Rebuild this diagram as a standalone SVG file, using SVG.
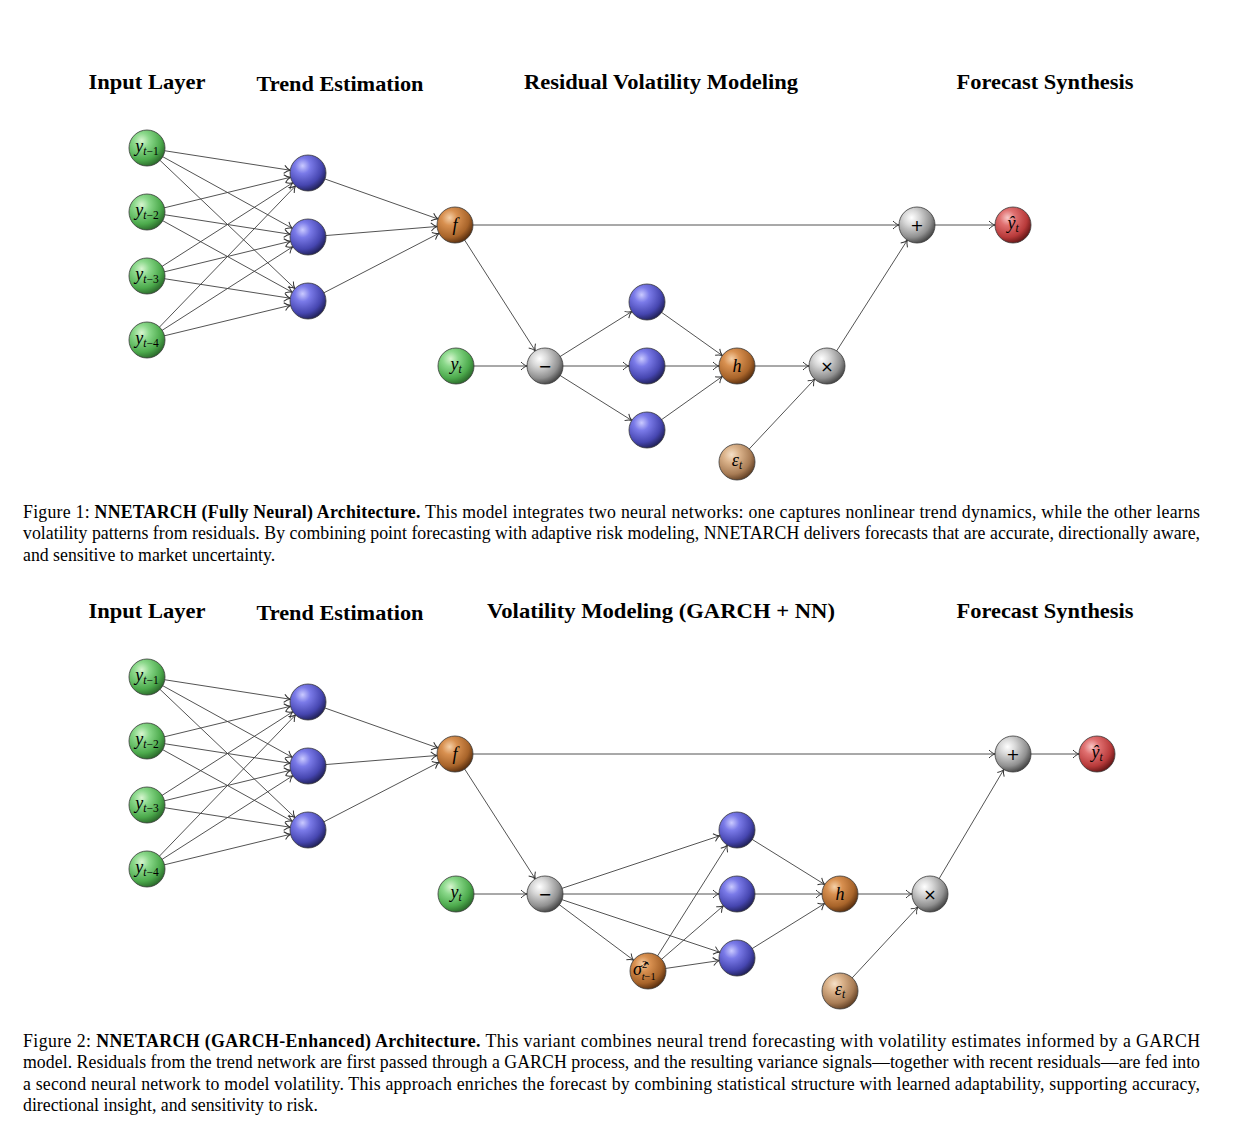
<svg xmlns="http://www.w3.org/2000/svg" width="1256" height="1148" viewBox="0 0 1256 1148">
<style>
.e{stroke:#404040;stroke-width:0.9;fill:none;marker-end:url(#ar)}
.n{stroke:#3a3a3a;stroke-width:0.8}
.hd{font-family:"Liberation Serif","Times New Roman",serif;font-weight:bold;font-size:22px;fill:#000}
.cap{font-family:"Liberation Serif","Times New Roman",serif;font-size:17.8px;fill:#000}
.m{font-family:"Liberation Serif","Times New Roman",serif;font-size:18px;fill:#000}
.op{font-family:"DejaVu Sans","Liberation Sans",sans-serif;font-size:16px;fill:#000}
.i{font-style:italic}
.s{font-size:11.5px}
</style>
<defs>
<marker id="ar" markerUnits="userSpaceOnUse" markerWidth="40" markerHeight="20" viewBox="-30 -10 40 20" refX="18" refY="0" orient="auto" overflow="visible">
<path d="M-6,-4 C-4,-1.8 -1.5,-0.4 0,0 C-1.5,0.4 -4,1.8 -6,4" fill="none" stroke="#333" stroke-width="1"/>
</marker>
<radialGradient id="gG" cx="0.35" cy="0.3" r="0.72" fx="0.35" fy="0.3"><stop offset="0" stop-color="#d8f5d0"/><stop offset="0.3" stop-color="#8ad88a"/><stop offset="0.75" stop-color="#4caa4c"/><stop offset="1" stop-color="#2d6e2d"/></radialGradient>
<radialGradient id="gB" cx="0.35" cy="0.3" r="0.72" fx="0.35" fy="0.3"><stop offset="0" stop-color="#cacaff"/><stop offset="0.3" stop-color="#7a7ae8"/><stop offset="0.75" stop-color="#4646b0"/><stop offset="1" stop-color="#23235e"/></radialGradient>
<radialGradient id="gO" cx="0.35" cy="0.3" r="0.72" fx="0.35" fy="0.3"><stop offset="0" stop-color="#f5d0a8"/><stop offset="0.3" stop-color="#d89050"/><stop offset="0.75" stop-color="#a8642a"/><stop offset="1" stop-color="#5e3210"/></radialGradient>
<radialGradient id="gS" cx="0.35" cy="0.3" r="0.72" fx="0.35" fy="0.3"><stop offset="0" stop-color="#ffffff"/><stop offset="0.3" stop-color="#d8d8d8"/><stop offset="0.75" stop-color="#909090"/><stop offset="1" stop-color="#4a4a4a"/></radialGradient>
<radialGradient id="gR" cx="0.35" cy="0.3" r="0.72" fx="0.35" fy="0.3"><stop offset="0" stop-color="#f8c8c8"/><stop offset="0.3" stop-color="#e07070"/><stop offset="0.75" stop-color="#b83a3a"/><stop offset="1" stop-color="#6a1818"/></radialGradient>
<radialGradient id="gT" cx="0.35" cy="0.3" r="0.72" fx="0.35" fy="0.3"><stop offset="0" stop-color="#f5e0c8"/><stop offset="0.3" stop-color="#dcb48c"/><stop offset="0.75" stop-color="#a87c55"/><stop offset="1" stop-color="#664428"/></radialGradient>
</defs>
<rect width="1256" height="1148" fill="#fff"/>

<!-- Headings -->
<g id="headings1">
<text class="hd" x="147" y="89" text-anchor="middle" textLength="117" lengthAdjust="spacingAndGlyphs">Input Layer</text>
<text class="hd" x="340" y="91" text-anchor="middle" textLength="167" lengthAdjust="spacingAndGlyphs">Trend Estimation</text>
<text class="hd" x="661" y="89" text-anchor="middle" textLength="274" lengthAdjust="spacingAndGlyphs">Residual Volatility Modeling</text>
<text class="hd" x="1045" y="89" text-anchor="middle" textLength="177" lengthAdjust="spacingAndGlyphs">Forecast Synthesis</text>
</g>
<g id="headings2">
<text class="hd" x="147" y="618" text-anchor="middle" textLength="117" lengthAdjust="spacingAndGlyphs">Input Layer</text>
<text class="hd" x="340" y="620" text-anchor="middle" textLength="167" lengthAdjust="spacingAndGlyphs">Trend Estimation</text>
<text class="hd" x="661" y="618" text-anchor="middle" textLength="348" lengthAdjust="spacingAndGlyphs">Volatility Modeling (GARCH + NN)</text>
<text class="hd" x="1045" y="618" text-anchor="middle" textLength="177" lengthAdjust="spacingAndGlyphs">Forecast Synthesis</text>
</g>

<!-- Connectors figure 1 -->
<g id="connectors1">
<line class="e" x1="147" y1="148" x2="308" y2="173"/><line class="e" x1="147" y1="148" x2="308" y2="237"/><line class="e" x1="147" y1="148" x2="308" y2="301"/>
<line class="e" x1="147" y1="212" x2="308" y2="173"/><line class="e" x1="147" y1="212" x2="308" y2="237"/><line class="e" x1="147" y1="212" x2="308" y2="301"/>
<line class="e" x1="147" y1="276" x2="308" y2="173"/><line class="e" x1="147" y1="276" x2="308" y2="237"/><line class="e" x1="147" y1="276" x2="308" y2="301"/>
<line class="e" x1="147" y1="340" x2="308" y2="173"/><line class="e" x1="147" y1="340" x2="308" y2="237"/><line class="e" x1="147" y1="340" x2="308" y2="301"/>
<line class="e" x1="308" y1="173" x2="455" y2="225"/><line class="e" x1="308" y1="237" x2="455" y2="225"/><line class="e" x1="308" y1="301" x2="455" y2="225"/>
<line class="e" x1="455" y1="225" x2="917" y2="225"/>
<line class="e" x1="455" y1="225" x2="545" y2="366"/>
<line class="e" x1="456" y1="366" x2="545" y2="366"/>
<line class="e" x1="545" y1="366" x2="647" y2="302"/><line class="e" x1="545" y1="366" x2="647" y2="366"/><line class="e" x1="545" y1="366" x2="647" y2="430"/>
<line class="e" x1="647" y1="302" x2="737" y2="366"/><line class="e" x1="647" y1="366" x2="737" y2="366"/><line class="e" x1="647" y1="430" x2="737" y2="366"/>
<line class="e" x1="737" y1="366" x2="827" y2="366"/>
<line class="e" x1="737" y1="462" x2="827" y2="366"/>
<line class="e" x1="827" y1="366" x2="917" y2="225"/>
<line class="e" x1="917" y1="225" x2="1013" y2="225"/>
</g>

<!-- Connectors figure 2 -->
<g id="connectors2">
<line class="e" x1="147" y1="677" x2="308" y2="702"/><line class="e" x1="147" y1="677" x2="308" y2="766"/><line class="e" x1="147" y1="677" x2="308" y2="830"/>
<line class="e" x1="147" y1="741" x2="308" y2="702"/><line class="e" x1="147" y1="741" x2="308" y2="766"/><line class="e" x1="147" y1="741" x2="308" y2="830"/>
<line class="e" x1="147" y1="805" x2="308" y2="702"/><line class="e" x1="147" y1="805" x2="308" y2="766"/><line class="e" x1="147" y1="805" x2="308" y2="830"/>
<line class="e" x1="147" y1="869" x2="308" y2="702"/><line class="e" x1="147" y1="869" x2="308" y2="766"/><line class="e" x1="147" y1="869" x2="308" y2="830"/>
<line class="e" x1="308" y1="702" x2="455" y2="754"/><line class="e" x1="308" y1="766" x2="455" y2="754"/><line class="e" x1="308" y1="830" x2="455" y2="754"/>
<line class="e" x1="455" y1="754" x2="1013" y2="754"/>
<line class="e" x1="455" y1="754" x2="545" y2="894"/>
<line class="e" x1="456" y1="894" x2="545" y2="894"/>
<line class="e" x1="545" y1="894" x2="737" y2="830"/><line class="e" x1="545" y1="894" x2="737" y2="894"/><line class="e" x1="545" y1="894" x2="737" y2="958"/><line class="e" x1="545" y1="894" x2="648" y2="971"/>
<line class="e" x1="648" y1="971" x2="737" y2="830"/><line class="e" x1="648" y1="971" x2="737" y2="894"/><line class="e" x1="648" y1="971" x2="737" y2="958"/>
<line class="e" x1="737" y1="830" x2="840" y2="894"/><line class="e" x1="737" y1="894" x2="840" y2="894"/><line class="e" x1="737" y1="958" x2="840" y2="894"/>
<line class="e" x1="840" y1="894" x2="930" y2="894"/>
<line class="e" x1="840" y1="991" x2="930" y2="894"/>
<line class="e" x1="930" y1="894" x2="1013" y2="754"/>
<line class="e" x1="1013" y1="754" x2="1097" y2="754"/>
</g>

<!-- Nodes figure 1 -->
<g id="f1-in1"><circle class="n" cx="147" cy="148" r="18" fill="url(#gG)"/><text class="m" x="147" y="152" text-anchor="middle"><tspan class="i">y</tspan><tspan class="s" dy="3"><tspan class="i">t</tspan>−1</tspan></text></g>
<g id="f1-in2"><circle class="n" cx="147" cy="212" r="18" fill="url(#gG)"/><text class="m" x="147" y="216" text-anchor="middle"><tspan class="i">y</tspan><tspan class="s" dy="3"><tspan class="i">t</tspan>−2</tspan></text></g>
<g id="f1-in3"><circle class="n" cx="147" cy="276" r="18" fill="url(#gG)"/><text class="m" x="147" y="280" text-anchor="middle"><tspan class="i">y</tspan><tspan class="s" dy="3"><tspan class="i">t</tspan>−3</tspan></text></g>
<g id="f1-in4"><circle class="n" cx="147" cy="340" r="18" fill="url(#gG)"/><text class="m" x="147" y="344" text-anchor="middle"><tspan class="i">y</tspan><tspan class="s" dy="3"><tspan class="i">t</tspan>−4</tspan></text></g>
<g id="f1-h1"><circle class="n" cx="308" cy="173" r="18" fill="url(#gB)"/></g>
<g id="f1-h2"><circle class="n" cx="308" cy="237" r="18" fill="url(#gB)"/></g>
<g id="f1-h3"><circle class="n" cx="308" cy="301" r="18" fill="url(#gB)"/></g>
<g id="f1-f"><circle class="n" cx="455" cy="225" r="18" fill="url(#gO)"/><text class="m i" x="455" y="231" text-anchor="middle">f</text></g>
<g id="f1-plus"><circle class="n" cx="917" cy="225" r="18" fill="url(#gS)"/><text class="op" x="917" y="231" text-anchor="middle">+</text></g>
<g id="f1-yhat"><circle class="n" cx="1013" cy="225" r="18" fill="url(#gR)"/><text class="m" x="1013" y="229" text-anchor="middle"><tspan class="i">ŷ</tspan><tspan class="s i" dy="3">t</tspan></text></g>
<g id="f1-yt"><circle class="n" cx="456" cy="366" r="18" fill="url(#gG)"/><text class="m" x="456" y="370" text-anchor="middle"><tspan class="i">y</tspan><tspan class="s i" dy="3">t</tspan></text></g>
<g id="f1-minus"><circle class="n" cx="545" cy="366" r="18" fill="url(#gS)"/><text class="op" x="545" y="372" text-anchor="middle">−</text></g>
<g id="f1-v1"><circle class="n" cx="647" cy="302" r="18" fill="url(#gB)"/></g>
<g id="f1-v2"><circle class="n" cx="647" cy="366" r="18" fill="url(#gB)"/></g>
<g id="f1-v3"><circle class="n" cx="647" cy="430" r="18" fill="url(#gB)"/></g>
<g id="f1-h"><circle class="n" cx="737" cy="366" r="18" fill="url(#gO)"/><text class="m i" x="737" y="372" text-anchor="middle">h</text></g>
<g id="f1-times"><circle class="n" cx="827" cy="366" r="18" fill="url(#gS)"/><text class="op" x="827" y="372" text-anchor="middle">×</text></g>
<g id="f1-eps"><circle class="n" cx="737" cy="462" r="18" fill="url(#gT)"/><text class="m" x="737" y="466" text-anchor="middle"><tspan class="i">ε</tspan><tspan class="s i" dy="3">t</tspan></text></g>

<!-- Nodes figure 2 -->
<g id="f2-in1"><circle class="n" cx="147" cy="677" r="18" fill="url(#gG)"/><text class="m" x="147" y="681" text-anchor="middle"><tspan class="i">y</tspan><tspan class="s" dy="3"><tspan class="i">t</tspan>−1</tspan></text></g>
<g id="f2-in2"><circle class="n" cx="147" cy="741" r="18" fill="url(#gG)"/><text class="m" x="147" y="745" text-anchor="middle"><tspan class="i">y</tspan><tspan class="s" dy="3"><tspan class="i">t</tspan>−2</tspan></text></g>
<g id="f2-in3"><circle class="n" cx="147" cy="805" r="18" fill="url(#gG)"/><text class="m" x="147" y="809" text-anchor="middle"><tspan class="i">y</tspan><tspan class="s" dy="3"><tspan class="i">t</tspan>−3</tspan></text></g>
<g id="f2-in4"><circle class="n" cx="147" cy="869" r="18" fill="url(#gG)"/><text class="m" x="147" y="873" text-anchor="middle"><tspan class="i">y</tspan><tspan class="s" dy="3"><tspan class="i">t</tspan>−4</tspan></text></g>
<g id="f2-h1"><circle class="n" cx="308" cy="702" r="18" fill="url(#gB)"/></g>
<g id="f2-h2"><circle class="n" cx="308" cy="766" r="18" fill="url(#gB)"/></g>
<g id="f2-h3"><circle class="n" cx="308" cy="830" r="18" fill="url(#gB)"/></g>
<g id="f2-f"><circle class="n" cx="455" cy="754" r="18" fill="url(#gO)"/><text class="m i" x="455" y="760" text-anchor="middle">f</text></g>
<g id="f2-plus"><circle class="n" cx="1013" cy="754" r="18" fill="url(#gS)"/><text class="op" x="1013" y="760" text-anchor="middle">+</text></g>
<g id="f2-yhat"><circle class="n" cx="1097" cy="754" r="18" fill="url(#gR)"/><text class="m" x="1097" y="758" text-anchor="middle"><tspan class="i">ŷ</tspan><tspan class="s i" dy="3">t</tspan></text></g>
<g id="f2-yt"><circle class="n" cx="456" cy="894" r="18" fill="url(#gG)"/><text class="m" x="456" y="898" text-anchor="middle"><tspan class="i">y</tspan><tspan class="s i" dy="3">t</tspan></text></g>
<g id="f2-minus"><circle class="n" cx="545" cy="894" r="18" fill="url(#gS)"/><text class="op" x="545" y="900" text-anchor="middle">−</text></g>
<g id="f2-v1"><circle class="n" cx="737" cy="830" r="18" fill="url(#gB)"/></g>
<g id="f2-v2"><circle class="n" cx="737" cy="894" r="18" fill="url(#gB)"/></g>
<g id="f2-v3"><circle class="n" cx="737" cy="958" r="18" fill="url(#gB)"/></g>
<g id="f2-sigma"><circle class="n" cx="648" cy="971" r="18" fill="url(#gO)"/>
<text class="m" x="633" y="975" font-size="16"><tspan class="i">σ̂</tspan><tspan font-size="10.5" dy="-7">2</tspan><tspan font-size="10.5" dx="-5.5" dy="12"><tspan class="i">t</tspan>−1</tspan></text></g>
<g id="f2-h"><circle class="n" cx="840" cy="894" r="18" fill="url(#gO)"/><text class="m i" x="840" y="900" text-anchor="middle">h</text></g>
<g id="f2-times"><circle class="n" cx="930" cy="894" r="18" fill="url(#gS)"/><text class="op" x="930" y="900" text-anchor="middle">×</text></g>
<g id="f2-eps"><circle class="n" cx="840" cy="991" r="18" fill="url(#gT)"/><text class="m" x="840" y="995" text-anchor="middle"><tspan class="i">ε</tspan><tspan class="s i" dy="3">t</tspan></text></g>

<!-- Captions -->
<g id="caption1">
<text class="cap" x="23" y="518" textLength="1177" lengthAdjust="spacing">Figure 1: <tspan font-weight="bold">NNETARCH (Fully Neural) Architecture.</tspan> This model integrates two neural networks: one captures nonlinear trend dynamics, while the other learns</text>
<text class="cap" x="23" y="539" textLength="1177" lengthAdjust="spacing">volatility patterns from residuals. By combining point forecasting with adaptive risk modeling, NNETARCH delivers forecasts that are accurate, directionally aware,</text>
<text class="cap" x="23" y="561">and sensitive to market uncertainty.</text>
</g>
<g id="caption2">
<text class="cap" x="23" y="1047" textLength="1177" lengthAdjust="spacing">Figure 2: <tspan font-weight="bold">NNETARCH (GARCH-Enhanced) Architecture.</tspan> This variant combines neural trend forecasting with volatility estimates informed by a GARCH</text>
<text class="cap" x="23" y="1068" textLength="1177" lengthAdjust="spacing">model. Residuals from the trend network are first passed through a GARCH process, and the resulting variance signals—together with recent residuals—are fed into</text>
<text class="cap" x="23" y="1090" textLength="1177" lengthAdjust="spacing">a second neural network to model volatility. This approach enriches the forecast by combining statistical structure with learned adaptability, supporting accuracy,</text>
<text class="cap" x="23" y="1111">directional insight, and sensitivity to risk.</text>
</g>
</svg>
